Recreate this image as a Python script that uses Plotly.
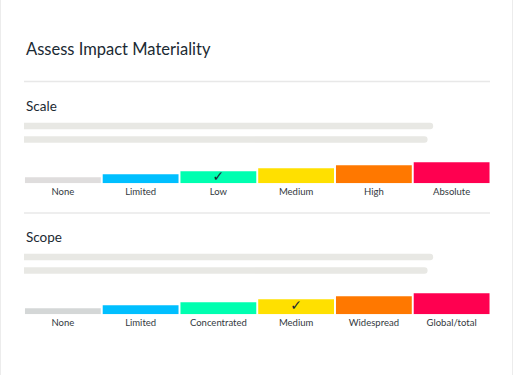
import plotly.graph_objects as go

# ---------------- data ----------------
title_text = "Assess Impact Materiality"
section_names = ["Scale", "Scope"]
scale_levels = ["None", "Limited", "Low", "Medium", "High", "Absolute"]
scope_levels = ["None", "Limited", "Concentrated", "Medium", "Widespread", "Global/total"]
bar_heights = [6, 9, 12, 15, 18, 21]          # relative bar heights (same for both rows)
scale_selected = "Low"
scope_selected = "Medium"
placeholder_lengths = [87.8, 86.6]           # % of row width, two skeleton text lines
scale_colors = ["#dfdddd", "#00bfff", "#00ffb0", "#ffe000", "#ff7800", "#ff0050"]
scope_colors = ["#d4d7d7", "#00bfff", "#00ffb0", "#ffe000", "#ff7800", "#ff0050"]

W, H = 515, 375
FONT = "Lato"
DARK = "#1b2a33"


def px(x):
    return x / W


def py(y):
    return 1 - y / H


fig = go.Figure()

sections = [
    (section_names[0], scale_levels, scale_colors, scale_selected, 0),
    (section_names[1], scope_levels, scope_colors, scope_selected, 131),
]

annotations = [
    dict(text=title_text, x=px(24), y=py(49), xref="paper", yref="paper",
         xanchor="left", yanchor="middle", showarrow=False,
         font=dict(family=FONT, size=16.5, color=DARK))
]
shapes = [
    # card borders
    dict(type="line", xref="paper", yref="paper", x0=px(0.5), x1=px(0.5), y0=0, y1=1,
         line=dict(color="#ececec", width=1)),
    dict(type="line", xref="paper", yref="paper", x0=px(512.5), x1=px(512.5), y0=0, y1=1,
         line=dict(color="#ececec", width=1)),
    # dividers
    dict(type="line", xref="paper", yref="paper", x0=px(24), x1=px(490), y0=py(81.5), y1=py(81.5),
         line=dict(color="#e8e8e8", width=1.5)),
    dict(type="line", xref="paper", yref="paper", x0=px(24), x1=px(490), y0=py(213), y1=py(213),
         line=dict(color="#e8e8e8", width=1.5)),
]

layout_axes = {}
for i, (name, levels, colors, selected, off) in enumerate(sections):
    bx = "x" if i == 0 else f"x{i + 1}"
    by = "y" if i == 0 else f"y{i + 1}"
    pxn = f"x{i + 3}"
    pyn = f"y{i + 3}"

    annotations.append(dict(text=name, x=px(24), y=py(106 + off), xref="paper", yref="paper",
                            xanchor="left", yanchor="middle", showarrow=False,
                            font=dict(family=FONT, size=13.5, color=DARK)))

    # coloured level bars
    fig.add_trace(go.Bar(x=levels, y=bar_heights, width=0.975,
                         marker=dict(color=colors, line=dict(width=0)),
                         xaxis=bx, yaxis=by, hoverinfo="skip", showlegend=False))
    # check mark on the selected level
    sel_idx = levels.index(selected)
    fig.add_trace(go.Scatter(x=[selected], y=[bar_heights[sel_idx] / 2], mode="text",
                             text=["✓"], textfont=dict(family="DejaVu Sans", size=14, color=DARK),
                             xaxis=bx, yaxis=by, hoverinfo="skip", showlegend=False))
    # skeleton placeholder lines
    fig.add_trace(go.Bar(x=placeholder_lengths, y=[0, 1], orientation="h", width=0.48,
                         marker=dict(color="#e8e8e4", line=dict(width=0), cornerradius="50%"),
                         xaxis=pxn, yaxis=pyn, hoverinfo="skip", showlegend=False))

    bar_key_x = "xaxis" if i == 0 else f"xaxis{i + 1}"
    bar_key_y = "yaxis" if i == 0 else f"yaxis{i + 1}"
    layout_axes[bar_key_x] = dict(domain=[px(24), px(490.5)], anchor=by, type="category",
                                  range=[-0.5, 5.5], showgrid=False, zeroline=False,
                                  showline=False, ticks="", fixedrange=True,
                                  ticklabelstandoff=1,
                                  tickfont=dict(family=FONT, size=9.5, color="#33393e"))
    layout_axes[bar_key_y] = dict(domain=[py(183.3 + off), py(160 + off)], anchor=bx,
                                  range=[0, 23.3], visible=False, fixedrange=True)
    layout_axes[f"xaxis{i + 3}"] = dict(domain=[px(24), px(490)], anchor=pyn, range=[0, 100],
                                        visible=False, fixedrange=True)
    layout_axes[f"yaxis{i + 3}"] = dict(domain=[py(146.25 + off), py(119.25 + off)], anchor=pxn,
                                        range=[1.5, -0.5], visible=False, fixedrange=True)

fig.update_layout(
    width=W, height=H, margin=dict(l=0, r=0, t=0, b=0),
    paper_bgcolor="white", plot_bgcolor="rgba(0,0,0,0)",
    annotations=annotations, shapes=shapes, showlegend=False,
    **layout_axes,
)

fig.write_html("out.html", config={"displayModeBar": False},
               post_script="document.body.style.margin='0';document.body.style.overflow='hidden';")
